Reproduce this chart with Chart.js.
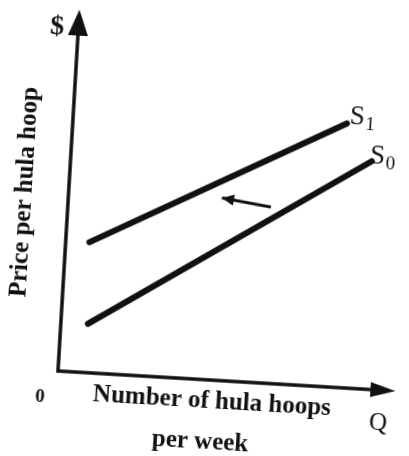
<!DOCTYPE html>
<html>
<head>
<meta charset="utf-8">
<script src="https://cdn.jsdelivr.net/npm/chart.js@4"></script>
<style>
  html, body { margin: 0; padding: 0; background: #fff; overflow: hidden; }
  /* the scan is tilted a little clockwise, so the whole canvas is turned */
  #wrap { position: absolute; left: 0; top: 0; width: 409px; height: 456px;
          transform-origin: 58px 371px; transform: rotate(3.4deg); }
</style>
</head>
<body>
<div id="wrap"><canvas id="chart1" width="409" height="456"></canvas></div>
<script>
// supply before the shift
const s0_x = [8, 89];
const s0_y = [13.5, 63];
// supply after the shift
const s1_x = [7, 81];
const s1_y = [36, 73];
// small arrow showing the shift (tail -> head)
const shift_x = [60, 45.4];
const shift_y = [48.7, 50.4];
// axes: top of price axis, corner, end of quantity axis
const axis_x = [0, 0, 94];
const axis_y = [94.5, 0, 0];
const curveNames = ["S", "S"];
const curveSubs = ["0", "1"];

function pts(xs, ys) {
    return xs.map(function (v, i) { return { x: v, y: ys[i] }; });
}

function arrowHead(ctx, x1, y1, x2, y2, len, wid) {
    var a = Math.atan2(y2 - y1, x2 - x1);
    ctx.save();
    ctx.translate(x2, y2);
    ctx.rotate(a);
    ctx.beginPath();
    ctx.moveTo(0, 0);
    ctx.lineTo(-len, wid / 2);
    ctx.lineTo(-len, -wid / 2);
    ctx.closePath();
    ctx.fill();
    ctx.restore();
}

const ink = "#111";

// arrowheads and all the text
const extras = {
    id: "extras",
    afterDatasetsDraw: function (chart) {
        var ctx = chart.ctx;
        var X = chart.scales.x, Y = chart.scales.y;
        var px = function (v) { return X.getPixelForValue(v); };
        var py = function (v) { return Y.getPixelForValue(v); };
        ctx.save();
        ctx.fillStyle = ink;

        // axis arrowheads
        arrowHead(ctx, px(0), py(0), px(0), py(100), 26, 20);
        arrowHead(ctx, px(0), py(0), px(100), py(0), 25, 15);
        // shift arrow head
        arrowHead(ctx, px(shift_x[0]), py(shift_y[0]), px(shift_x[1]), py(shift_y[1]), 12, 11);

        ctx.textAlign = "center";
        ctx.textBaseline = "middle";
        ctx.font = "bold 28px 'Liberation Serif'";
        ctx.fillText("$", px(-6.3), py(94.8));
        ctx.font = "bold 19px 'Liberation Serif'";
        ctx.fillText("0", px(-4.85), py(-7.5));
        ctx.font = "25px 'Liberation Serif'";
        ctx.fillText("Q", px(95.4), py(-9.1));
        ctx.font = "bold 25px 'Liberation Serif'";
        ctx.fillText("Number of hula hoops", px(46), py(-6.0));
        ctx.fillText("per week", px(43.2), py(-17.3));

        ctx.save();
        ctx.translate(px(-12.9), py(48.8));
        ctx.rotate(-Math.PI / 2);
        ctx.fillText("Price per hula hoop", 0, 0);
        ctx.restore();

        // curve labels with subscripts
        var labelPos = [[92.8, 64.4], [86.2, 74.8]];
        labelPos.forEach(function (p, i) {
            ctx.font = "27px 'Liberation Serif'";
            ctx.textAlign = "right";
            ctx.fillText(curveNames[i], px(p[0]), py(p[1]));
            ctx.font = "19px 'Liberation Serif'";
            ctx.textAlign = "left";
            ctx.fillText(curveSubs[i], px(p[0]) + 1, py(p[1]) + 7);
        });
        ctx.restore();
    }
};

var myChart = document.getElementById("chart1").getContext("2d");
var chart = new Chart(myChart, {
    type: "scatter",
    data: {
        datasets: [
            {
                label: "axes",
                data: pts(axis_x, axis_y),
                showLine: true,
                borderColor: ink,
                borderWidth: 3.5,
                borderJoinStyle: "miter",
                pointRadius: 0,
                clip: false
            },
            {
                label: "S0",
                data: pts(s0_x, s0_y),
                showLine: true,
                borderColor: ink,
                borderWidth: 6,
                borderCapStyle: "round",
                pointRadius: 0,
                clip: false
            },
            {
                label: "S1",
                data: pts(s1_x, s1_y),
                showLine: true,
                borderColor: ink,
                borderWidth: 6,
                borderCapStyle: "round",
                pointRadius: 0,
                clip: false
            },
            {
                label: "shift",
                data: pts(shift_x, shift_y),
                showLine: true,
                borderColor: ink,
                borderWidth: 3,
                pointRadius: 0,
                clip: false
            }
        ]
    },
    options: {
        responsive: false,
        animation: false,
        layout: { padding: { left: 58, right: 13, top: 9, bottom: 85 } },
        scales: {
            x: { type: "linear", min: 0, max: 100, display: false },
            y: { type: "linear", min: 0, max: 100, display: false }
        },
        plugins: {
            legend: { display: false },
            tooltip: { enabled: false }
        }
    },
    plugins: [extras]
});
</script>
</body>
</html>
